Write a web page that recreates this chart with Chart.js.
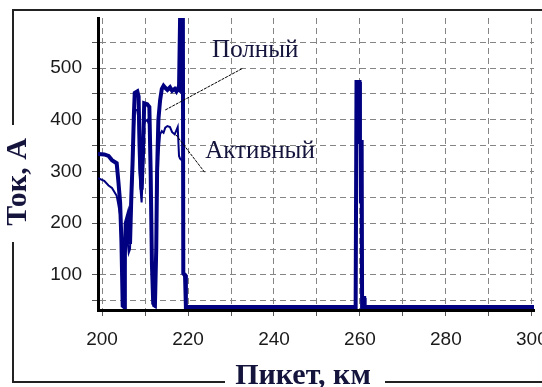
<!DOCTYPE html>
<html><head><meta charset="utf-8">
<script src="https://cdn.jsdelivr.net/npm/chart.js@4.4.0/dist/chart.umd.min.js"></script>
<style>html,body{margin:0;padding:0;background:#fff;}#wrap{position:relative;width:542px;height:387px;overflow:hidden;}</style>
</head><body><div id="wrap"><canvas id="c"></canvas></div>
<script>
// Picket (km)
const pickets = [199.05,200.5,201.5,202.3,203.4,203.8,204.2,204.5,204.8,205.1,
  205.3,205.5,205.9,206.2,206.5,206.8,207.1,207.4,207.6,208.2,
  208.5,208.7,208.9,209.2,209.5,209.8,210.5,211.0,211.3,211.6,
  211.9,212.3,212.6,212.8,213.1,213.5,213.9,214.3,214.7,215.2,
  215.8,216.3,216.9,217.3,217.6,217.9,218.15,218.8,218.9,219.3,
  219.5,259.0,259.2,259.9,260.0,260.4,260.5,260.6,261.0,261.1,300.5];
// Full current (A)
const fullCurrent = [334,333,330,322,316,280,240,165,40,38,
  140,200,212,175,160,250,318,410,452,455,
  445,355,300,265,330,432,430,425,300,120,
  45,42,150,300,400,438,460,466,462,458,
  463,456,460,455,460,458,597,597,103,100,
  38,38,473,473,357,357,38,55,55,38,38];
// Active current (A)
const activeCurrent = [287,282,273,268,253,235,215,162,40,38,
  100,172,168,143,150,230,300,380,420,418,
  400,320,270,240,300,395,400,390,280,110,
  40,38,130,250,330,372,378,375,385,388,
  386,376,372,380,386,330,325,320,100,95,
  36,36,450,450,241,241,36,36,36,36,36];
const xGridValues = [200,210,220,230,240,250,260,270,280,290,300];
const xTickLabels = [200,220,240,260,280,300];
const yGridValues = [50,100,150,200,250,300,350,400,450,500,550];
const yTickLabels = [100,200,300,400,500];
const seriesNames = ['Полный','Активный'];
const xTitle = 'Пикет, км';
const yTitle = 'Ток, А';
// annotation anchors in data units: [labelX, labelY, lineFromX, lineFromY, lineToX, lineToY]
const fullNote = [225.6, 521, 214.7, 419, 232.8, 500];
const activeNote = [224.0, 326, 217.2, 371, 224.0, 297];

const navy = '#000080';
const decor = {
  id: 'decor',
  afterDraw(chart) {
    const {ctx, scales:{x, y}} = chart;
    ctx.save();
    ctx.strokeStyle = '#000'; ctx.lineWidth = 1; ctx.setLineDash([3,1]);
    [fullNote, activeNote].forEach(n => {
      ctx.beginPath();
      ctx.moveTo(x.getPixelForValue(n[2]), y.getPixelForValue(n[3]));
      ctx.lineTo(x.getPixelForValue(n[4]), y.getPixelForValue(n[5]));
      ctx.stroke();
    });
    ctx.setLineDash([]);
    ctx.fillStyle = '#14143c';
    ctx.font = '25px "Liberation Serif"';
    ctx.textAlign = 'left'; ctx.textBaseline = 'alphabetic';
    ctx.fillText(seriesNames[0], x.getPixelForValue(fullNote[0]), y.getPixelForValue(fullNote[1]));
    ctx.fillText(seriesNames[1], x.getPixelForValue(activeNote[0]), y.getPixelForValue(activeNote[1]));
    ctx.strokeStyle = '#222'; ctx.lineWidth = 2;
    ctx.beginPath();
    ctx.moveTo(13,125); ctx.lineTo(13,10); ctx.lineTo(542,10);
    ctx.moveTo(13,242); ctx.lineTo(13,382); ctx.lineTo(225,382);
    ctx.moveTo(385,382); ctx.lineTo(542,382);
    ctx.stroke();
    ctx.fillStyle = '#14143c';
    ctx.font = 'bold 30px "Liberation Serif"';
    ctx.textAlign = 'center';
    ctx.fillText(xTitle, 303, 384);
    ctx.translate(26, 182); ctx.rotate(-Math.PI/2);
    ctx.fillText(yTitle, 0, 0);
    ctx.restore();
  }
};

const tickFont = {family: '"Liberation Sans", Arial, sans-serif', size: 19};
new Chart(document.getElementById('c'), {
  type: 'line',
  data: {
    datasets: [
      {label: seriesNames[1], data: pickets.map((p,i)=>({x:p, y:activeCurrent[i]})), borderColor: navy, borderWidth: 2, pointRadius: 0, tension: 0, borderJoinStyle: 'miter'},
      {label: seriesNames[0], data: pickets.map((p,i)=>({x:p, y:fullCurrent[i]})), borderColor: navy, borderWidth: 4, pointRadius: 0, tension: 0, borderJoinStyle: 'miter'}
    ]
  },
  options: {
    responsive: true, maintainAspectRatio: false, animation: false,
    layout: {padding: {left: 0, top: 18, right: 8, bottom: 0}},
    plugins: {legend: {display: false}, tooltip: {enabled: false}},
    scales: {
      x: {
        type: 'linear', min: 199.05, max: 300.5,
        afterFit: s => { s.height = 77; s.paddingLeft = 0; s.paddingRight = 0; },
        afterBuildTicks: s => { s.ticks = xGridValues.map(v => ({value: v})); },
        ticks: {font: tickFont, color: '#1a1a1a', padding: 12, maxRotation: 0, autoSkip: false,
          callback: v => xTickLabels.includes(v) ? String(v) : ''},
        grid: {color: '#858585', lineWidth: 1, tickLength: 6, tickColor: '#555', tickBorderDash: []},
        border: {display: true, color: '#000', width: 3, dash: [6,4]}
      },
      y: {
        type: 'linear', min: 32, max: 597,
        afterFit: s => { s.width = 98; s.paddingTop = 0; s.paddingBottom = 0; },
        afterBuildTicks: s => { s.ticks = yGridValues.map(v => ({value: v})); },
        ticks: {font: tickFont, color: '#1a1a1a', padding: 10, autoSkip: false,
          callback: v => yTickLabels.includes(v) ? String(v) : ''},
        grid: {color: '#858585', lineWidth: 1, tickLength: 6, tickColor: '#555', tickBorderDash: []},
        border: {display: true, color: '#000', width: 3, dash: [6,4]}
      }
    }
  },
  plugins: [decor]
});
</script></body></html>
